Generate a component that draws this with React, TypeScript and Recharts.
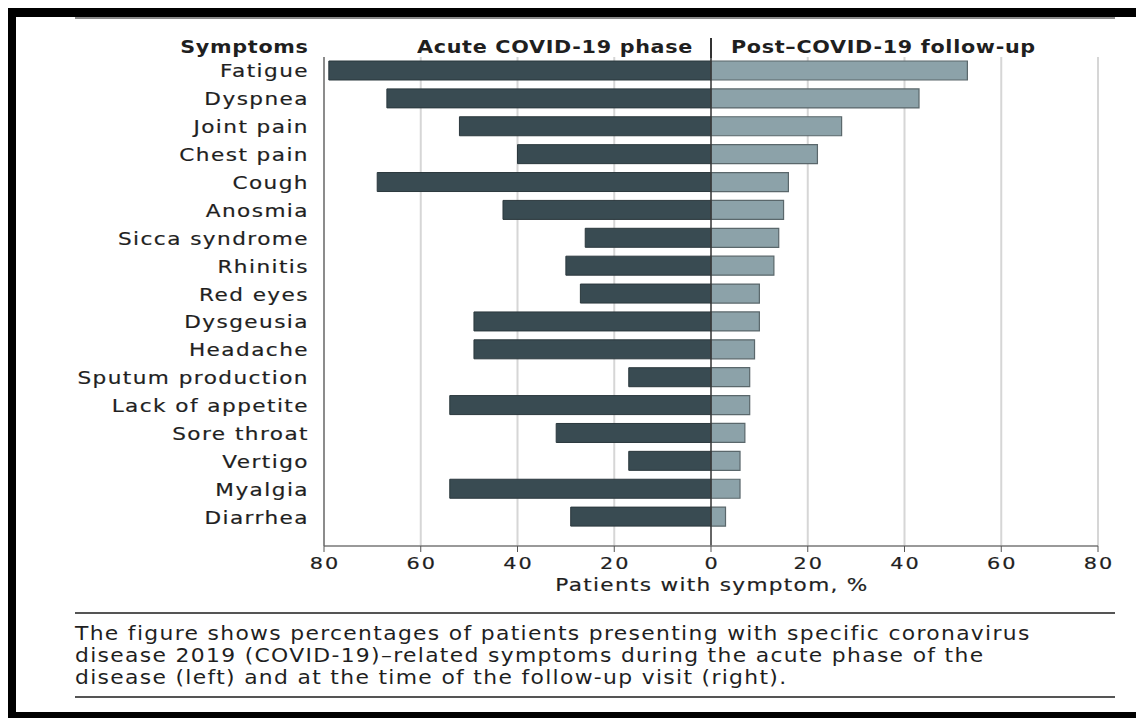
import { BarChart, Bar, XAxis, YAxis, CartesianGrid, ReferenceLine, Label } from "recharts";

const symptoms = [
  "Fatigue",
  "Dyspnea",
  "Joint pain",
  "Chest pain",
  "Cough",
  "Anosmia",
  "Sicca syndrome",
  "Rhinitis",
  "Red eyes",
  "Dysgeusia",
  "Headache",
  "Sputum production",
  "Lack of appetite",
  "Sore throat",
  "Vertigo",
  "Myalgia",
  "Diarrhea",
];

// % of patients, acute phase (drawn to the left)
const acute = [79, 67, 52, 40, 69, 43, 26, 30, 27, 49, 49, 17, 54, 32, 17, 54, 29];
// % of patients at follow-up visit (drawn to the right)
const followUp = [53, 43, 27, 22, 16, 15, 14, 13, 10, 10, 9, 8, 8, 7, 6, 6, 3];

const xTicks = [-80, -60, -40, -20, 0, 20, 40, 60, 80];
const gridTicks = [-60, -40, -20, 20, 40, 60, 80];

const FONT = "'DejaVu Sans', sans-serif";
const TEXT = "#1f1f1f";

const data = symptoms.map((name, i) => ({
  name,
  acute: -acute[i],
  followUp: followUp[i],
}));

// the original typeface is wide, so glyphs are stretched horizontally
function SymptomTick(props: any) {
  const { y, payload } = props;
  return (
    <text
      transform={`translate(309,${y + 6.5}) scale(1.2,1)`}
      textAnchor="end"
      fill={TEXT}
      fontSize={18}
      fontFamily={FONT}
      letterSpacing={1.2}
      stroke={TEXT}
      strokeWidth={0.2}
    >
      {payload.value}
    </text>
  );
}

function ValueTick(props: any) {
  const { x, y, payload } = props;
  return (
    <text
      transform={`translate(${x + 1},${y + 15}) scale(1.3,1)`}
      textAnchor="middle"
      fill={TEXT}
      fontSize={16}
      fontFamily={FONT}
      letterSpacing={1.5}
      stroke={TEXT}
      strokeWidth={0.2}
    >
      {Math.abs(payload.value)}
    </text>
  );
}

const header = {
  position: "absolute" as const,
  top: 36,
  fontSize: 18,
  fontWeight: 700,
  letterSpacing: 0.6,
  whiteSpace: "nowrap" as const,
};

export default function App() {
  return (
    <div
      style={{
        position: "relative",
        width: 1144,
        height: 718,
        margin: "-8px 0 0 -8px",
        background: "#fff",
        overflow: "hidden",
        fontFamily: FONT,
        color: TEXT,
      }}
    >
      {/* frame */}
      <div style={{ position: "absolute", left: 0, top: 8, width: 1144, height: 9, background: "#000" }} />
      <div style={{ position: "absolute", left: 8, top: 8, width: 8, height: 710, background: "#000" }} />
      <div style={{ position: "absolute", left: 0, top: 712, width: 1144, height: 6, background: "#000" }} />
      <div style={{ position: "absolute", left: 75, top: 17, width: 1040, height: 2, background: "#8a8a8a" }} />

      {/* column headers */}
      <div style={{ ...header, right: 1144 - 309, transform: "scaleX(1.15)", transformOrigin: "right top" }}>
        Symptoms
      </div>
      <div style={{ ...header, right: 1144 - 693, transform: "scaleX(1.15)", transformOrigin: "right top" }}>
        Acute COVID-19 phase
      </div>
      <div style={{ ...header, left: 731, transform: "scaleX(1.15)", transformOrigin: "left top" }}>
        Post–COVID-19 follow-up
      </div>
      <div style={{ position: "absolute", left: 710, top: 38, width: 1.5, height: 20, background: "#333" }} />

      <div style={{ position: "absolute", left: 0, top: 0 }}>
        <BarChart
          width={1144}
          height={610}
          data={data}
          layout="vertical"
          stackOffset="sign"
          barSize={19}
          margin={{ top: 57, right: 46, bottom: 24, left: 0 }}
        >
          <CartesianGrid horizontal={false} vertical verticalValues={gridTicks} stroke="#d6d6d6" strokeWidth={2} />
          <XAxis
            type="number"
            domain={[-80, 80]}
            ticks={xTicks}
            tick={<ValueTick />}
            tickSize={6}
            tickLine={{ stroke: "#555" }}
            axisLine={{ stroke: "#777", strokeWidth: 1.5 }}
            height={40}
          >
            <Label
              content={(p: any) => {
                const vb = p.viewBox;
                return (
                  <text
                    transform={`translate(${vb.x + vb.width / 2 + 1},${vb.y + vb.height + 5}) scale(1.2,1)`}
                    textAnchor="middle"
                    fill={TEXT}
                    fontSize={18}
                    fontFamily={FONT}
                    letterSpacing={1.1}
                    stroke={TEXT}
                    strokeWidth={0.2}
                  >
                    Patients with symptom, %
                  </text>
                );
              }}
            />
          </XAxis>
          <YAxis
            type="category"
            dataKey="name"
            width={324}
            tick={<SymptomTick />}
            tickLine={false}
            axisLine={{ stroke: "#666", strokeWidth: 1.5 }}
            padding={{ top: 0, bottom: 15 }}
            interval={0}
          />
          <Bar dataKey="acute" stackId="a" fill="#394b52" stroke="#2b383d" strokeWidth={1} isAnimationActive={false} />
          <Bar dataKey="followUp" stackId="a" fill="#8ca2a9" stroke="#5a676b" strokeWidth={1.2} isAnimationActive={false} />
          <ReferenceLine x={0} stroke="#333" strokeWidth={1.5} />
        </BarChart>
      </div>

      {/* caption */}
      <div style={{ position: "absolute", left: 75, top: 612, width: 1040, height: 2, background: "#555" }} />
      <div
        style={{
          position: "absolute",
          left: 75,
          top: 622,
          fontSize: 19,
          lineHeight: "22px",
          letterSpacing: 1.15,
          whiteSpace: "nowrap",
          transform: "scaleX(1.15)",
          transformOrigin: "left top",
        }}
      >
        The figure shows percentages of patients presenting with specific coronavirus
        <br />
        disease 2019 (COVID-19)–related symptoms during the acute phase of the
        <br />
        disease (left) and at the time of the follow-up visit (right).
      </div>
      <div style={{ position: "absolute", left: 75, top: 696, width: 1040, height: 2, background: "#555" }} />
    </div>
  );
}
